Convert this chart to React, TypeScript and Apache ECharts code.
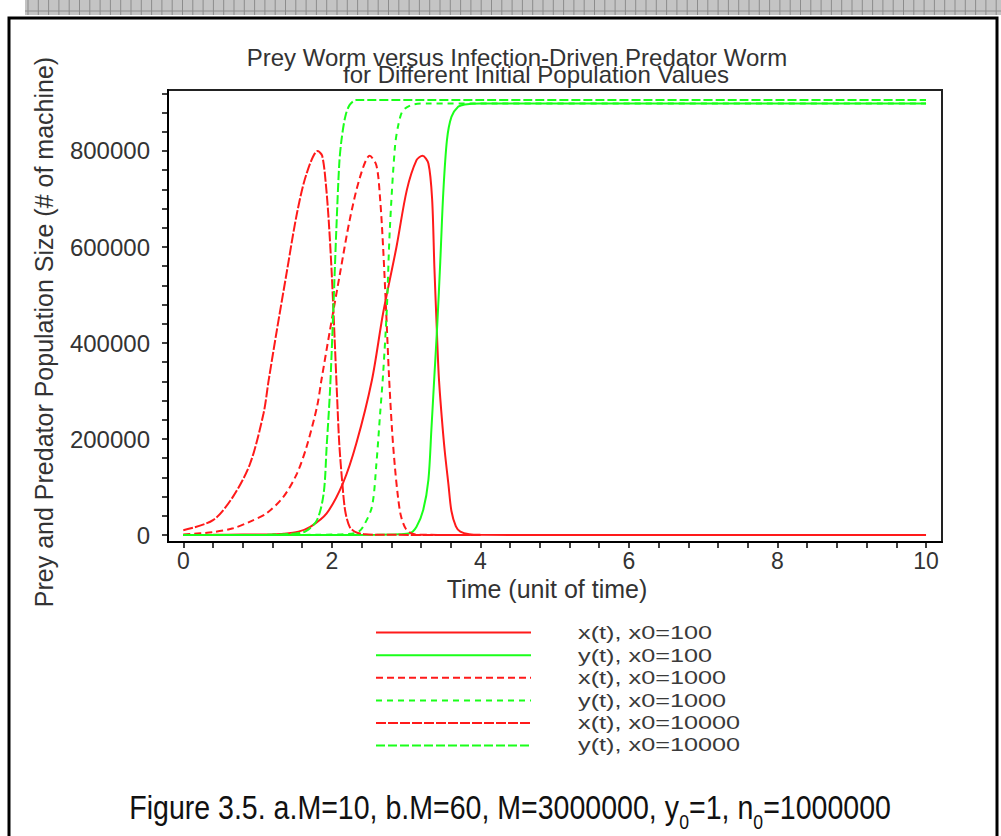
import React, { useEffect, useRef } from "react";
import * as echarts from "echarts";

// ---- data (time, population) ----
const preyX0_100: number[][] = [
  [0, 100], [0.4, 300], [0.8, 800], [1.2, 1500], [1.35, 2500], [1.55, 7000], [1.71, 17000],
  [1.93, 45000], [2.15, 108000], [2.33, 191000], [2.54, 323000], [2.69, 462000],
  [2.87, 600000], [3.01, 719000], [3.14, 781000], [3.22, 790000], [3.3, 774000],
  [3.35, 700000], [3.38, 560000], [3.41, 440000], [3.44, 330000], [3.48, 245000],
  [3.52, 175000], [3.57, 105000], [3.61, 50000], [3.67, 18000], [3.73, 7000],
  [3.85, 1500], [4, 300], [6, 0], [10, 0],
];
const predX0_100: number[][] = [
  [0, 1], [1, 5], [2, 80], [2.6, 600], [2.9, 1500], [3.05, 3500], [3.14, 17000], [3.23, 52000],
  [3.3, 115000], [3.34, 219000], [3.38, 330000], [3.42, 440000], [3.46, 570000],
  [3.5, 712000], [3.55, 823000], [3.61, 871000], [3.7, 892000], [3.79, 897000],
  [4, 899000], [10, 899000],
];
const preyX0_1000: number[][] = [
  [0, 1000], [0.4, 6000], [0.67, 14000], [0.9, 28000], [1.12, 45000], [1.35, 80000],
  [1.53, 128000], [1.66, 184000], [1.8, 267000], [1.86, 323000], [1.975, 427000],
  [2.11, 545000], [2.24, 656000], [2.38, 746000], [2.51, 790000], [2.6, 770000],
  [2.65, 700000], [2.69, 600000], [2.73, 470000], [2.77, 330000], [2.81, 220000],
  [2.85, 140000], [2.89, 80000], [2.93, 40000], [3.0, 12000], [3.1, 2000], [3.3, 300], [4, 0],
];
const predX0_1000: number[][] = [
  [0, 1], [1, 15], [1.8, 400], [2.2, 2000], [2.35, 6000], [2.42, 17000], [2.54, 59000], [2.6, 149000],
  [2.65, 253000], [2.69, 335000], [2.74, 470000], [2.78, 635000], [2.85, 809000],
  [2.9, 858000], [2.96, 885000], [3.1, 897000], [3.3, 899000], [10, 899000],
];
const preyX0_10000: number[][] = [
  [0, 10000], [0.4, 31000], [0.67, 80000], [0.9, 149000], [1.08, 253000], [1.15, 323000],
  [1.26, 427000], [1.39, 545000], [1.53, 670000], [1.66, 753000], [1.81, 800000],
  [1.87, 790000], [1.92, 730000], [1.96, 650000], [2.0, 540000], [2.04, 400000],
  [2.07, 290000], [2.1, 190000], [2.14, 110000], [2.18, 50000], [2.24, 17000],
  [2.32, 6000], [2.45, 1500], [2.6, 500], [4, 0],
];
const predX0_10000: number[][] = [
  [0, 1], [1, 100], [1.5, 3000], [1.65, 8000], [1.8, 31000], [1.89, 87000], [1.93, 184000],
  [1.975, 300000], [2.02, 470000], [2.06, 635000], [2.1, 774000], [2.13, 823000],
  [2.18, 871000], [2.24, 896000], [2.33, 906000], [10, 906000],
];

const xLabelValues = [0, 2, 4, 6, 8, 10];
const xTickValues = [
  0, 0.4, 0.8, 1.2, 1.6, 2, 2.4, 2.8, 3.2, 3.6, 4, 4.4, 4.8, 5.2, 5.6, 6, 6.4, 6.8, 7.2, 7.6,
  8, 8.4, 8.8, 9.2, 9.6, 10,
];
const yLabelValues = [0, 200000, 400000, 600000, 800000];
const yTickValues = [
  0, 40000, 80000, 120000, 160000, 200000, 240000, 280000, 320000, 360000, 400000, 440000,
  480000, 520000, 560000, 600000, 640000, 680000, 720000, 760000, 800000, 840000, 880000, 920000,
];

const seriesNames = [
  "x(t), x0=100",
  "y(t), x0=100",
  "x(t), x0=1000",
  "y(t), x0=1000",
  "x(t), x0=10000",
  "y(t), x0=10000",
];

const titleLine1 = "Prey Worm versus Infection-Driven Predator Worm";
const titleLine2 = "for Different Initial Population Values";
const xAxisTitle = "Time (unit of time)";
const yAxisTitle = "Prey and Predator Population Size (# of machine)";
const caption = "Figure 3.5. a.M=10, b.M=60, M=3000000, y{sub|0}=1, n{sub|0}=1000000";

const FONT = "'Liberation Sans', Arial, sans-serif";
const RED = "#ff1a1a";
const GREEN = "#1aff1a";

export default function App() {
  const ref = useRef<HTMLDivElement>(null);

  useEffect(() => {
    if (!ref.current) return;
    const chart = echarts.init(ref.current, null, { renderer: "svg" });

    const mk = (name: string, data: number[][], color: string, dash: any) => ({
      name,
      type: "line",
      data,
      symbol: "none",
      showSymbol: false,
      smooth: 0.3,
      lineStyle: { color, width: 2, type: dash },
      itemStyle: { color },
      emphasis: { disabled: true },
    });

    const hatchLines: any[] = [];
    for (let x = 28; x < 1001; x += 10.3) {
      hatchLines.push({
        type: "line",
        shape: { x1: x, y1: 0, x2: x, y2: 15 },
        style: { stroke: "#8c8c8c", lineWidth: 1 },
      });
    }

    // legend labels (the reference draws them wide and short)
    const legendLabels = seriesNames.map((name, i) => ({
      type: "text",
      x: 578,
      y: 633 + i * 22.4,
      scaleX: 1.33,
      style: {
        text: name,
        fontSize: 19,
        fill: "#3a3a3a",
        fontFamily: FONT,
        align: "left",
        verticalAlign: "middle",
      },
    }));

    chart.setOption({
      animation: false,
      backgroundColor: "#ffffff",
      grid: {
        left: 168,
        top: 90,
        width: 774,
        height: 452,
        show: true,
        borderColor: "#222",
        borderWidth: 2,
        containLabel: false,
      },
      legend: {
        orient: "vertical",
        left: 375,
        top: 627,
        padding: 0,
        itemWidth: 155,
        itemHeight: 14,
        itemGap: 11.4,
        data: seriesNames,
        formatter: () => "",
        itemStyle: { opacity: 0, color: "rgba(0,0,0,0)", borderColor: "rgba(0,0,0,0)", borderWidth: 0 },
        textStyle: { fontSize: 12, lineHeight: 14, fontFamily: FONT },
      },
      xAxis: {
        type: "value",
        min: -0.206,
        max: 10.215,
        name: xAxisTitle,
        nameLocation: "middle",
        nameGap: 34,
        nameTextStyle: { fontSize: 25, color: "#333", fontFamily: FONT, padding: [0, 16, 0, 0] },
        axisLine: { show: true, onZero: false, lineStyle: { color: "#000", width: 2 } },
        axisTick: { show: true, customValues: xTickValues, length: 6, lineStyle: { color: "#000", width: 1.5 } },
        axisLabel: {
          customValues: xLabelValues,
          fontSize: 23,
          color: "#333",
          fontFamily: FONT,
          margin: 7,
          formatter: (v: number) => String(v),
        },
        splitLine: { show: false },
      },
      yAxis: {
        type: "value",
        min: -14583,
        max: 927083,
        name: yAxisTitle,
        nameLocation: "middle",
        nameRotate: 90,
        nameGap: 112,
        nameTextStyle: { fontSize: 25, color: "#333", fontFamily: FONT, padding: [0, 32, 0, 0] },
        axisLine: { show: true, onZero: false, lineStyle: { color: "#000", width: 2 } },
        axisTick: { show: true, customValues: yTickValues, length: 6, lineStyle: { color: "#000", width: 1.5 } },
        axisLabel: {
          customValues: yLabelValues,
          fontSize: 24,
          color: "#333",
          fontFamily: FONT,
          margin: 18,
          formatter: (v: number) => String(v),
        },
        splitLine: { show: false },
      },
      series: [
        mk(seriesNames[0], preyX0_100, RED, "solid"),
        mk(seriesNames[1], predX0_100, GREEN, "solid"),
        mk(seriesNames[2], preyX0_1000, RED, [7, 4]),
        mk(seriesNames[3], predX0_1000, GREEN, [6, 5]),
        mk(seriesNames[4], preyX0_10000, RED, [10, 2]),
        mk(seriesNames[5], predX0_10000, GREEN, [9, 3]),
      ],
      graphic: [
        { type: "rect", shape: { x: 25, y: 0, width: 976, height: 15 }, style: { fill: "#c4c4c4" }, silent: true },
        ...hatchLines,
        { type: "line", shape: { x1: 25, y1: 11, x2: 1001, y2: 11 }, style: { stroke: "#8c8c8c", lineWidth: 1 } },
        {
          type: "rect",
          shape: { x: 9, y: 18, width: 988, height: 840 },
          style: { fill: "none", stroke: "#000", lineWidth: 3 },
          silent: true,
        },
        ...legendLabels,
        {
          type: "text",
          x: 517,
          y: 65.5,
          style: {
            text: "{l1|" + titleLine1 + "}\n{l2|" + titleLine2 + "}",
            fill: "#333",
            fontFamily: FONT,
            align: "center",
            verticalAlign: "middle",
            rich: {
              l1: { fontSize: 24, lineHeight: 17, fill: "#333", fontFamily: FONT },
              l2: { fontSize: 24, lineHeight: 17, fill: "#333", fontFamily: FONT, padding: [0, 0, 0, 38] },
            },
          },
        },
        {
          type: "text",
          x: 510,
          y: 808,
          scaleX: 0.84,
          style: {
            text: caption,
            fontSize: 34,
            fill: "#111",
            fontFamily: FONT,
            align: "center",
            verticalAlign: "middle",
            rich: {
              sub: { fontSize: 21, fill: "#111", fontFamily: FONT, verticalAlign: "bottom", padding: [0, 0, -7, 0] },
            },
          },
        },
      ],
    });

    return () => chart.dispose();
  }, []);

  return <div ref={ref} style={{ position: "absolute", left: 0, top: 0, width: 1001, height: 836 }} />;
}
